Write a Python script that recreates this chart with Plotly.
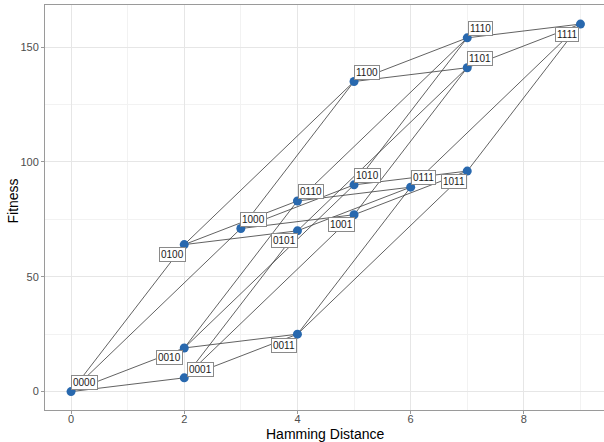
import plotly.graph_objects as go

# Data
genotypes = ["0000", "0001", "0010", "0100", "1000", "0011", "0101", "0110",
             "1001", "1010", "1100", "0111", "1011", "1101", "1110", "1111"]
hamming = [0, 2, 2, 2, 3, 4, 4, 4, 5, 5, 5, 6, 7, 7, 7, 9]
fitness = [0, 6, 19, 64, 71, 25, 70, 83, 77, 90, 135, 89, 96, 141, 154, 160]

x_ticks = [0, 2, 4, 6, 8]
y_ticks = [0, 50, 100, 150]

# label offsets in pixels (xshift, yshift) -- layout only
label_offsets = {
    "0000": (13, 9), "0001": (16, 8.5), "0010": (-15, -10), "0100": (-12, -9.5),
    "1000": (13, 9.5), "0011": (-13, -11), "0101": (-13, -9.5), "0110": (13.5, 9.5),
    "1001": (-13, -10), "1010": (13, 9.5), "1100": (13, 9.5), "0111": (13, 9.5),
    "1011": (-13, -10), "1101": (13, 9), "1110": (13, 9.5), "1111": (-13, -10.5),
}

idx = {g: i for i, g in enumerate(genotypes)}
ex, ey = [], []
for g in genotypes:
    for b in range(4):
        n = g[:b] + ("1" if g[b] == "0" else "0") + g[b + 1:]
        if g < n:
            ex += [hamming[idx[g]], hamming[idx[n]], None]
            ey += [fitness[idx[g]], fitness[idx[n]], None]

fig = go.Figure()
fig.add_trace(go.Scatter(x=ex, y=ey, mode="lines",
                         line=dict(color="#3a3a3a", width=0.8),
                         hoverinfo="skip", showlegend=False))
fig.add_trace(go.Scatter(x=hamming, y=fitness, mode="markers",
                         marker=dict(color="#2868AE", size=9),
                         text=genotypes, showlegend=False))

for g, xv, yv in zip(genotypes, hamming, fitness):
    dx, dy = label_offsets[g]
    fig.add_annotation(x=xv, y=yv, text=g, showarrow=False,
                       xshift=dx, yshift=dy,
                       font=dict(family="Liberation Sans, Arial", size=10, color="#1a1a1a"),
                       bgcolor="white", bordercolor="#8a8a8a", borderwidth=1,
                       borderpad=1)

# axis titles
fig.add_annotation(text="Hamming Distance", xref="paper", yref="paper",
                   x=0.5, y=0, yshift=-24, yanchor="middle", showarrow=False,
                   font=dict(family="Liberation Sans, Arial", size=14, color="black"))
fig.add_annotation(text="Fitness", xref="paper", yref="paper",
                   x=0, xshift=-33, y=0.5, yshift=6, textangle=-90, xanchor="center",
                   showarrow=False,
                   font=dict(family="Liberation Sans, Arial", size=14, color="black"))

grid = "#e6e6e6"
minor_grid = "#f2f2f2"
fig.update_layout(
    width=604, height=442,
    margin=dict(l=45, r=0, t=5, b=32),
    paper_bgcolor="white", plot_bgcolor="white",
    font=dict(family="Liberation Sans, Arial", color="#4d4d4d"),
    xaxis=dict(range=[-0.46, 9.416], tickvals=x_ticks, ticks="outside", ticklen=3,
               tickcolor="#9a9a9a", tickfont=dict(size=11, color="#4d4d4d"),
               ticklabelstandoff=-4,
               showgrid=True, gridcolor=grid, gridwidth=1, automargin=False,
               minor=dict(dtick=1, tick0=1, showgrid=True, gridcolor=minor_grid, gridwidth=0.7, ticks=""),
               showline=True, linecolor="#9a9a9a", linewidth=1, mirror=True,
               zeroline=False),
    yaxis=dict(range=[-8, 168.3], tickvals=y_ticks, ticks="outside", ticklen=3,
               tickcolor="#9a9a9a", tickfont=dict(size=11, color="#4d4d4d"),
               showgrid=True, gridcolor=grid, gridwidth=1, automargin=False,
               minor=dict(dtick=25, tick0=25, showgrid=True, gridcolor=minor_grid, gridwidth=0.7, ticks=""),
               showline=True, linecolor="#9a9a9a", linewidth=1, mirror=False,
               zeroline=False),
)

fig.write_html("out.html", config={"displayModeBar": False},
               post_script="document.body.style.margin='0';document.body.style.overflow='hidden';")
